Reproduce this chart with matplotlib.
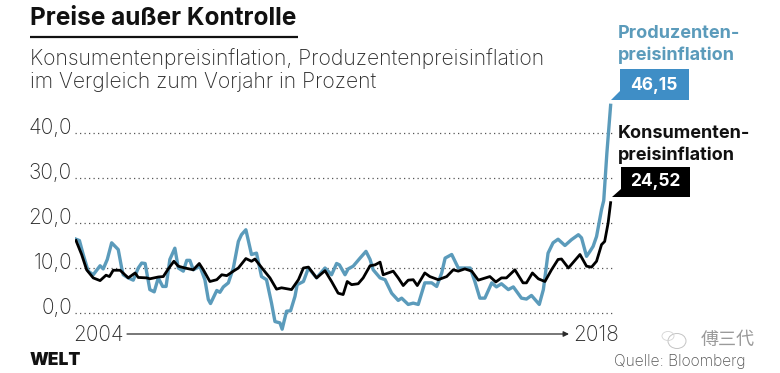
import matplotlib
matplotlib.use("Agg")
import matplotlib.pyplot as plt
from matplotlib.patches import Polygon, Ellipse

# months since Jan 2004
ppi_months = [0, 1.1, 2.3, 3.9, 5.5, 7.7, 8.7, 10.0, 11.4, 13.5, 14.6, 15.1, 16.7, 18.3, 19.9, 21.0, 22.1, 23.6, 25.0,
              26.3, 27.7, 28.8, 30.0, 31.6, 32.7, 34.3, 35.4, 36.4, 37.5, 39.6, 41.2, 42.3, 43.0, 45.0, 46.0, 47.1,
              48.7, 50.3, 51.9, 52.9, 54.3, 56.1, 57.7, 59.3, 60.9, 62.5, 63.6, 65.2, 65.9, 67.3, 68.6, 70.0, 70.7,
              72.7, 74.3, 76.9, 79.6, 81.7, 83.3, 84.2, 86.0, 87.0, 88.6, 90.8, 92.7, 94.0, 95.0, 97.2, 98.8, 100.9,
              103.0, 104.1, 106.2, 107.8, 109.4, 111.5, 113.7, 115.3, 116.9, 118.0, 120.1, 122.2, 126.0, 127.5, 129.1,
              130.7, 132.9, 134.4, 136.0, 138.2, 139.8, 142.4, 144.0, 145.6, 148.1, 149.4, 150.9, 152.5, 154.1, 156.3,
              158.4, 160.6, 161.6, 163.2, 164.3, 165.3, 166.4, 168.0, 168.7, 169.7, 170.9]
ppi_values = [16.4, 16.1, 13.0, 9.3, 8.5, 10.5, 9.8, 11.9, 15.6, 14.1, 10.0, 8.5, 7.8, 7.3, 10.0, 11.1, 11.0, 5.2, 4.7,
              7.8, 5.9, 5.9, 11.9, 14.4, 10.0, 9.3, 11.7, 11.7, 9.6, 10.4, 7.4, 3.0, 2.1, 5.0, 4.6, 5.8,
              6.7, 10.0, 15.9, 17.4, 18.5, 13.0, 13.3, 8.1, 7.4, 2.2, -1.9, -2.2, -3.6, 0.4, 0.5, 3.7, 6.3,
              7.0, 10.0, 7.8, 10.0, 8.5, 11.0, 10.7, 8.5, 9.8, 10.4, 12.2, 13.7, 11.9, 9.6, 7.8, 7.4, 4.4,
              2.8, 3.3, 1.9, 2.2, 1.9, 6.7, 6.7, 5.9, 8.9, 12.2, 13.0, 10.0, 10.0, 7.0, 3.3,
              3.3, 6.7, 5.8, 6.5, 5.2, 5.8, 3.3, 3.1, 3.9, 1.9, 5.2, 13.3, 15.6, 16.4, 15.0,
              16.3, 17.4, 16.7, 12.6, 13.7, 14.8, 17.0, 23.0, 25.0, 35.5, 46.15]

cpi_months = [0, 1.8, 3.4, 5.5, 7.7, 9.6, 10.7, 11.9, 14.1, 16.7, 18.9, 19.9, 22.6, 23.6, 26.3, 27.9, 29.5, 31.3, 32.7,
              34.8, 37.5, 39.4, 40.7, 42.8, 45.0, 46.6, 48.2, 50.3, 51.9, 54.3, 56.1, 57.2, 59.9, 62.0, 64.1, 65.7,
              68.9, 71.1, 72.7, 74.3, 76.9, 79.6, 81.7, 83.8, 85.4, 86.7, 88.1, 90.2, 91.8, 94.0, 95.6, 97.2, 98.2,
              101.4, 103.0, 104.6, 106.2, 107.8, 109.1, 111.5, 113.1, 115.8, 118.5, 120.6, 122.2, 124.3, 126.5, 128.6,
              132.3, 134.2, 136.0, 137.6, 140.3, 142.9, 144.0, 145.9, 147.8, 149.9, 152.0, 154.1, 155.2, 157.4, 161.1,
              163.2, 164.8, 166.4, 168.0, 169.0, 170.1, 170.9]
cpi_values = [16.1, 13.0, 9.6, 7.8, 7.2, 8.4, 8.1, 9.5, 9.5, 7.8, 8.9, 7.9, 7.8, 7.6, 8.0, 8.1, 9.8, 11.5, 10.4,
              10.0, 9.6, 11.0, 9.6, 7.0, 7.4, 8.5, 8.3, 9.3, 10.0, 12.1, 11.5, 12.0, 9.6, 7.8, 5.3, 5.6,
              5.2, 7.4, 10.0, 10.2, 7.8, 9.4, 7.0, 4.4, 4.1, 7.0, 6.3, 6.5, 7.8, 10.5, 10.7, 11.3, 8.5,
              9.3, 7.8, 6.1, 7.3, 7.4, 6.1, 8.9, 8.1, 7.4, 8.1, 9.6, 9.3, 9.8, 9.3, 7.3,
              8.1, 6.9, 7.8, 7.8, 9.6, 6.7, 6.7, 8.9, 7.6, 7.0, 9.6, 11.9, 12.0, 10.0, 13.0,
              10.4, 10.2, 11.5, 15.2, 15.9, 20.0, 24.52]

y_ticks = [0, 10, 20, 30, 40]
y_labels = ["0,0", "10,0", "20,0", "30,0", "40,0"]

BLUE = "#5b9bbb"
BOX_BLUE = "#3f8ec6"
DARK = "#2b2b2b"
W, H = 780, 373

plt.rcParams['font.family'] = ['Inter', 'DejaVu Sans']

fig = plt.figure(figsize=(W / 100, H / 100), dpi=100)

# chart area, 4.5 px per unit and 3.129 px per month
ax = fig.add_axes([75 / W, 1 - 335 / H, 540 / W, 235 / H])
ax.set_xlim(-0.32, 172.3)
ax.set_ylim(-22 / 4.5, 213 / 4.5)
ax.axis("off")
for t in y_ticks:
    ax.axhline(t, color="#555555", lw=0.9, ls=(0, (1, 2.6)), zorder=1)
ax.plot(ppi_months, ppi_values, color=BLUE, lw=2.4, zorder=2, solid_joinstyle="round")
ax.plot(cpi_months, cpi_values, color="black", lw=2.0, zorder=3, solid_joinstyle="round")

# overlay in pixel coordinates for the text and callouts
ov = fig.add_axes([0, 0, 1, 1], facecolor="none")
ov.set_xlim(0, W)
ov.set_ylim(H, 0)
ov.axis("off")

ov.text(30, 25, "Preise außer Kontrolle", fontsize=17.6, fontweight="bold", color="#111111", va="baseline")
ov.plot([30, 298], [37, 37], color="#111111", lw=1.6, solid_capstyle="butt")
ov.text(30, 65, "Konsumentenpreisinflation, Produzentenpreisinflation", fontsize=15.2, fontweight="light", color=DARK, va="baseline")
ov.text(30, 88, "im Vergleich zum Vorjahr in Prozent", fontsize=15.2, fontweight="light", color=DARK, va="baseline")

for t, lab in zip(y_ticks, y_labels):
    ov.text(72, 314 - t * 4.5, lab, fontsize=15, fontweight="light", color=DARK, ha="right", va="baseline")

ov.text(73, 341, "2004", fontsize=15, fontweight="light", color=DARK, va="baseline")
ov.text(573, 341, "2018", fontsize=15, fontweight="light", color=DARK, va="baseline")
ov.annotate("", xy=(569, 334), xytext=(127, 334),
            arrowprops=dict(arrowstyle="-|>", color=DARK, lw=0.9, mutation_scale=8, shrinkA=0, shrinkB=0))

# series labels and value boxes
ov.text(618, 38, "Produzenten-", fontsize=13, fontweight="bold", color=BLUE, va="baseline")
ov.text(618, 60, "preisinflation", fontsize=13, fontweight="bold", color=BLUE, va="baseline")
ov.add_patch(Polygon([(620, 69), (689, 69), (689, 100), (611, 100), (620, 91)], closed=True, color=BOX_BLUE, lw=0))
ov.text(654, 85, "46,15", fontsize=12.5, fontweight="bold", color="white", ha="center", va="center")

ov.text(618, 138, "Konsumenten-", fontsize=13, fontweight="bold", color="#111111", va="baseline")
ov.text(618, 160, "preisinflation", fontsize=13, fontweight="bold", color="#111111", va="baseline")
ov.add_patch(Polygon([(621, 167), (690, 167), (690, 197), (612, 197), (621, 189)], closed=True, color="black", lw=0))
ov.text(655, 182, "24,52", fontsize=12.5, fontweight="bold", color="white", ha="center", va="center")

# footer
ov.text(30, 365, "WELT", fontsize=12.5, fontweight="black", color="#111111", va="baseline")
ov.text(746, 366, "Quelle: Bloomberg", fontsize=11.2, fontweight="light", color="#555555", ha="right", va="baseline")

# watermark
ov.add_patch(Ellipse((677, 341), 18, 15, fill=False, ec="#c4c4c4", lw=0.7))
ov.add_patch(Ellipse((668, 336), 12, 9, fill=False, ec="#d4d4d4", lw=0.6))
ov.text(755, 340, "傅三代", fontsize=13, color="#9a9a9a", ha="right", va="center",
        family=['Noto Sans CJK SC', 'DejaVu Sans'])

fig.savefig("out.png", dpi=100)
